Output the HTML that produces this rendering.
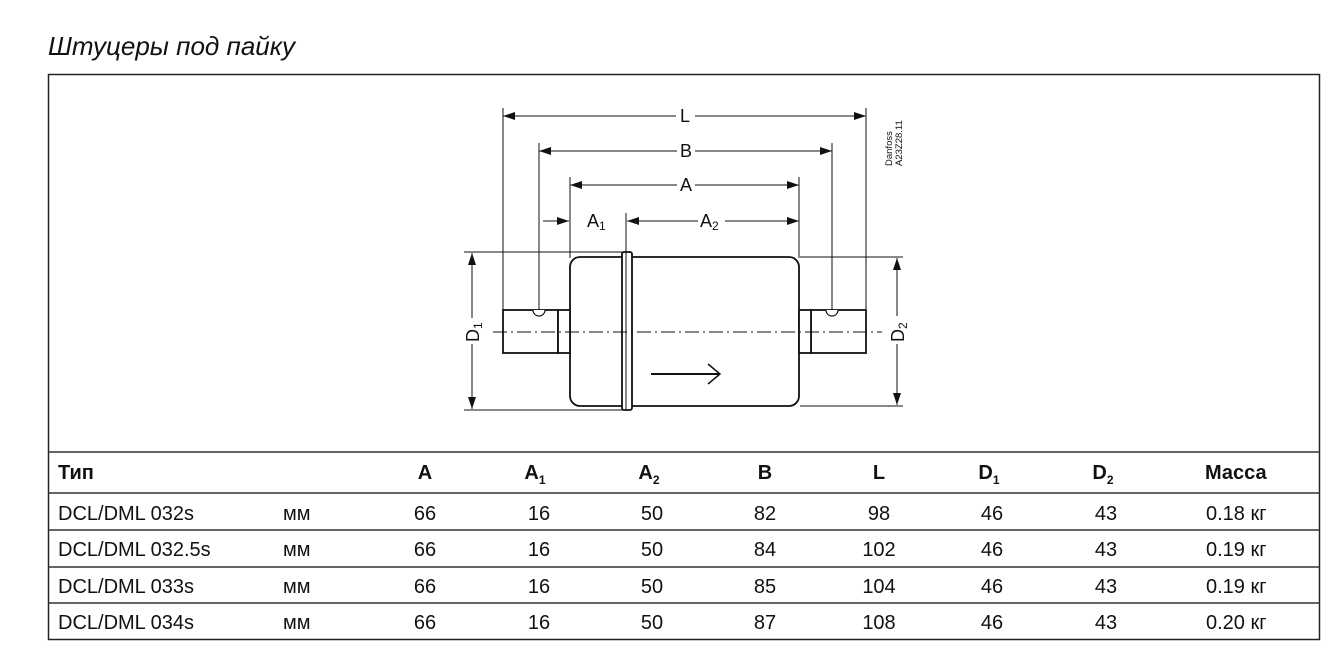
<!DOCTYPE html>
<html><head><meta charset="utf-8"><style>
body{margin:0;background:#fff;width:1341px;height:661px;overflow:hidden}
svg{display:block}
text{font-family:"Liberation Sans","DejaVu Sans",sans-serif;fill:#111}
.t{font-size:20px}
.h{font-size:20px;font-weight:bold}
.d{font-size:18px}
</style></head><body>
<svg width="1341" height="661" viewBox="0 0 1341 661">
<defs>
<marker id="ar" markerWidth="12" markerHeight="8" refX="12" refY="4" orient="auto-start-reverse" markerUnits="userSpaceOnUse"><path d="M0,0 L12,4 L0,8 z" fill="#111"/></marker>
</defs>
<text x="48" y="55" style="font-size:26px;font-style:italic">Штуцеры под пайку</text>
<rect x="48.5" y="74.5" width="1271" height="565" fill="none" stroke="#222" stroke-width="1.5"/>
<g stroke="#333" stroke-width="1.5">
<line x1="48" y1="452" x2="1320" y2="452"/>
<line x1="48" y1="493" x2="1320" y2="493"/>
<line x1="48" y1="530" x2="1320" y2="530"/>
<line x1="48" y1="567" x2="1320" y2="567"/>
<line x1="48" y1="603" x2="1320" y2="603"/>
</g>
<g stroke="#111" stroke-width="1" fill="none">
<line x1="503" y1="108" x2="503" y2="310"/>
<line x1="866" y1="108" x2="866" y2="310"/>
<line x1="539" y1="143" x2="539" y2="313"/>
<line x1="832" y1="143" x2="832" y2="313"/>
<line x1="570" y1="177" x2="570" y2="258"/>
<line x1="799" y1="177" x2="799" y2="258"/>
<line x1="626" y1="213" x2="626" y2="252"/>
<line x1="503" y1="116" x2="676" y2="116" marker-start="url(#ar)"/>
<line x1="695" y1="116" x2="866" y2="116" marker-end="url(#ar)"/>
<line x1="539" y1="151" x2="677" y2="151" marker-start="url(#ar)"/>
<line x1="695" y1="151" x2="832" y2="151" marker-end="url(#ar)"/>
<line x1="570" y1="185" x2="677" y2="185" marker-start="url(#ar)"/>
<line x1="695" y1="185" x2="799" y2="185" marker-end="url(#ar)"/>
<line x1="543" y1="221" x2="569" y2="221" marker-end="url(#ar)"/>
<line x1="627" y1="221" x2="698" y2="221" marker-start="url(#ar)"/>
<line x1="725" y1="221" x2="799" y2="221" marker-end="url(#ar)"/>
<line x1="464" y1="252" x2="625" y2="252"/>
<line x1="464" y1="410" x2="625" y2="410"/>
<line x1="800" y1="257" x2="903" y2="257"/>
<line x1="800" y1="406" x2="903" y2="406"/>
<line x1="472" y1="253" x2="472" y2="318" marker-start="url(#ar)"/>
<line x1="472" y1="344" x2="472" y2="409" marker-end="url(#ar)"/>
<line x1="897" y1="258" x2="897" y2="316" marker-start="url(#ar)"/>
<line x1="897" y1="344" x2="897" y2="405" marker-end="url(#ar)"/>
</g>
<g stroke="#111" stroke-width="1.8" fill="#fff">
<rect x="570" y="257" width="229" height="149" rx="10"/>
<rect x="503" y="310" width="55" height="43"/>
<rect x="558" y="310" width="12" height="43"/>
<rect x="811" y="310" width="55" height="43"/>
<rect x="799" y="310" width="12" height="43"/>
<rect x="622" y="252" width="10" height="158" rx="2"/>
</g>
<path d="M533,310 a6,6 0 0 0 12,0 M826,310 a6,6 0 0 0 12,0" fill="#fff" stroke="#111" stroke-width="1.2"/>
<line x1="626" y1="252" x2="626" y2="410" stroke="#111" stroke-width="1"/>
<line x1="493" y1="332" x2="882" y2="332" stroke="#111" stroke-width="1" stroke-dasharray="14,4,2,4"/>
<line x1="651" y1="374" x2="719" y2="374" stroke="#111" stroke-width="2"/>
<path d="M708,364 L720,374 L708,384" fill="none" stroke="#111" stroke-width="1.5"/>
<g class="d">
<text x="680" y="122">L</text>
<text x="680" y="157">B</text>
<text x="680" y="191">A</text>
<text x="587" y="227">A<tspan font-size="12" dy="3">1</tspan></text>
<text x="700" y="227">A<tspan font-size="12" dy="3">2</tspan></text>
<text transform="translate(479,342) rotate(-90)">D<tspan font-size="12" dy="3">1</tspan></text>
<text transform="translate(904,342) rotate(-90)">D<tspan font-size="12" dy="3">2</tspan></text>
</g>
<text transform="translate(892,166) rotate(-90)" style="font-size:9.5px">Danfoss</text>
<text transform="translate(902,166) rotate(-90)" style="font-size:9.5px">A23Z28.11</text>
<g class="h">
<text x="58" y="479">Тип</text>
<text x="425" y="479" text-anchor="middle">A</text>
<text x="535" y="479" text-anchor="middle">A<tspan font-size="12" dy="5">1</tspan></text>
<text x="649" y="479" text-anchor="middle">A<tspan font-size="12" dy="5">2</tspan></text>
<text x="765" y="479" text-anchor="middle">B</text>
<text x="879" y="479" text-anchor="middle">L</text>
<text x="989" y="479" text-anchor="middle">D<tspan font-size="12" dy="5">1</tspan></text>
<text x="1103" y="479" text-anchor="middle">D<tspan font-size="12" dy="5">2</tspan></text>
<text x="1205" y="479">Масса</text>
</g>
<g class="t">
<g transform="translate(0,520)"><text x="58">DCL/DML 032s</text><text x="283">мм</text><text x="425" text-anchor="middle">66</text><text x="539" text-anchor="middle">16</text><text x="652" text-anchor="middle">50</text><text x="765" text-anchor="middle">82</text><text x="879" text-anchor="middle">98</text><text x="992" text-anchor="middle">46</text><text x="1106" text-anchor="middle">43</text><text x="1206">0.18 кг</text></g>
<g transform="translate(0,556)"><text x="58">DCL/DML 032.5s</text><text x="283">мм</text><text x="425" text-anchor="middle">66</text><text x="539" text-anchor="middle">16</text><text x="652" text-anchor="middle">50</text><text x="765" text-anchor="middle">84</text><text x="879" text-anchor="middle">102</text><text x="992" text-anchor="middle">46</text><text x="1106" text-anchor="middle">43</text><text x="1206">0.19 кг</text></g>
<g transform="translate(0,593)"><text x="58">DCL/DML 033s</text><text x="283">мм</text><text x="425" text-anchor="middle">66</text><text x="539" text-anchor="middle">16</text><text x="652" text-anchor="middle">50</text><text x="765" text-anchor="middle">85</text><text x="879" text-anchor="middle">104</text><text x="992" text-anchor="middle">46</text><text x="1106" text-anchor="middle">43</text><text x="1206">0.19 кг</text></g>
<g transform="translate(0,629)"><text x="58">DCL/DML 034s</text><text x="283">мм</text><text x="425" text-anchor="middle">66</text><text x="539" text-anchor="middle">16</text><text x="652" text-anchor="middle">50</text><text x="765" text-anchor="middle">87</text><text x="879" text-anchor="middle">108</text><text x="992" text-anchor="middle">46</text><text x="1106" text-anchor="middle">43</text><text x="1206">0.20 кг</text></g>
</g>
</svg>
</body></html>
